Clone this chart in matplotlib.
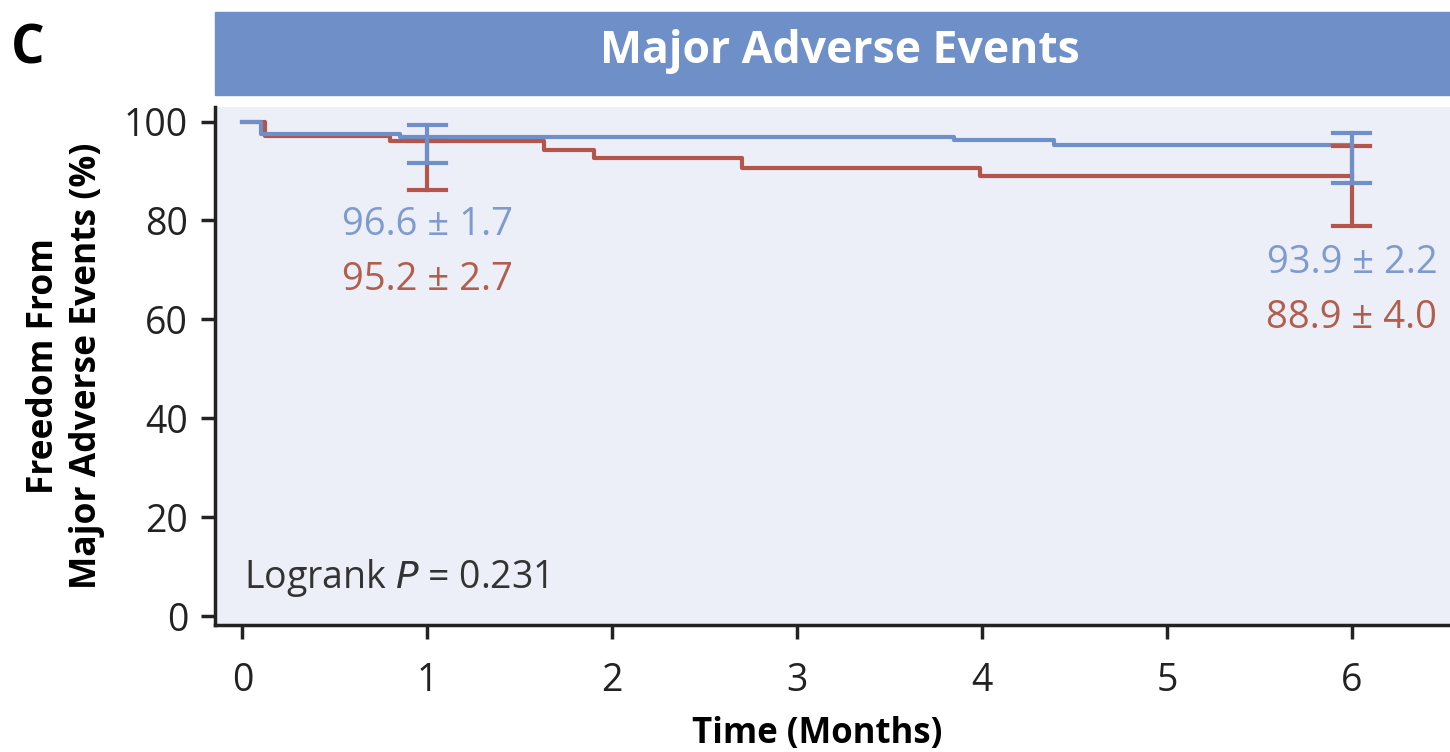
import matplotlib
matplotlib.use('Agg')
import matplotlib.pyplot as plt
from matplotlib.patches import Rectangle

plt.rcParams['font.family'] = ['Open Sans', 'DejaVu Sans']

# step curves (months, % free from event)
blueT = [0, 0.1, 0.85, 3.85, 4.39, 6.0]
blueV = [100, 97.4, 96.9, 96.2, 95.2, 95.2]
redT = [0, 0.12, 0.8, 1.63, 1.9, 2.7, 3.99, 6.0]
redV = [100, 97.0, 96.0, 94.3, 92.7, 90.7, 88.9, 88.9]

# confidence bars at 1 and 6 months
ciT = [1, 6]
blueLo = [91.6, 87.6]
blueHi = [99.4, 97.7]
redLo = [86.2, 78.8]
redHi = [96.0, 95.0]

blueTxt = ['96.6 \u00b1 1.7', '93.9 \u00b1 2.2']
redTxt = ['95.2 \u00b1 2.7', '88.9 \u00b1 4.0']
blueTxtY = [79, 71.5]
redTxtY = [68, 60.3]

xticks = [0, 1, 2, 3, 4, 5, 6]
yticks = [0, 20, 40, 60, 80, 100]

cBlue = '#6f8fc9'
cRed = '#b5544a'
cBlueTxt = '#7f9bcd'
cRedTxt = '#b25e4c'

fig = plt.figure(figsize=(14.5, 7.52), dpi=100)
ax = fig.add_axes([0.148, 0.169, 0.852, 0.689])
ax.set_facecolor('#eceff8')

ax.step(redT, redV, where='post', color=cRed, lw=3)
ax.step(blueT, blueV, where='post', color=cBlue, lw=3)

for i, t in enumerate(ciT):
    ax.plot([t, t], [redLo[i], redHi[i]], color=cRed, lw=3)
    ax.plot([t - 0.1, t + 0.1], [redLo[i]] * 2, color=cRed, lw=3)
    ax.plot([t - 0.1, t + 0.1], [redHi[i]] * 2, color=cRed, lw=3)
    ax.plot([t, t], [blueLo[i], blueHi[i]], color=cBlue, lw=3)
    ax.plot([t - 0.1, t + 0.1], [blueLo[i]] * 2, color=cBlue, lw=3)
    ax.plot([t - 0.1, t + 0.1], [blueHi[i]] * 2, color=cBlue, lw=3)
    ax.text(t, blueTxtY[i], blueTxt[i], color=cBlueTxt, fontsize=27.5,
            ha='center', va='center')
    ax.text(t, redTxtY[i], redTxt[i], color=cRedTxt, fontsize=27.5,
            ha='center', va='center')

ax.text(0.01, 5.7, 'Logrank $\\it{P}$ = 0.231', fontsize=27, color='#333333',
        ha='left', va='baseline')

ax.set_xlim(-0.15, 6.53)
ax.set_ylim(-1.8, 103)
ax.set_xticks(xticks)
ax.set_yticks(yticks)
ax.tick_params(axis='both', labelsize=27, width=2.5, length=10,
               colors='#222222')
ax.tick_params(axis='x', pad=17)
ax.tick_params(axis='y', pad=9)
for s in ['top', 'right']:
    ax.spines[s].set_visible(False)
for s in ['left', 'bottom']:
    ax.spines[s].set_linewidth(2.5)
    ax.spines[s].set_color('#222222')

ax.set_xlabel('Time (Months)', fontsize=25, fontweight='bold', labelpad=11)
ax.xaxis.label.set_x(0.488)
ax.set_ylabel('Freedom From\nMajor Adverse Events (%)', fontsize=25.5,
              fontweight='bold', labelpad=14, linespacing=1.25)

fig.patches.append(Rectangle((0.148, 0.874), 0.852, 0.110,
                             transform=fig.transFigure, color='#6f8fc9'))
fig.text(0.579, 0.932, 'Major Adverse Events', color='white', fontsize=32,
         fontweight='bold', ha='center', va='center')
fig.text(0.019, 0.934, 'C', fontsize=38, fontweight='bold', ha='center',
         va='center')

plt.savefig('out.png', dpi=100)
